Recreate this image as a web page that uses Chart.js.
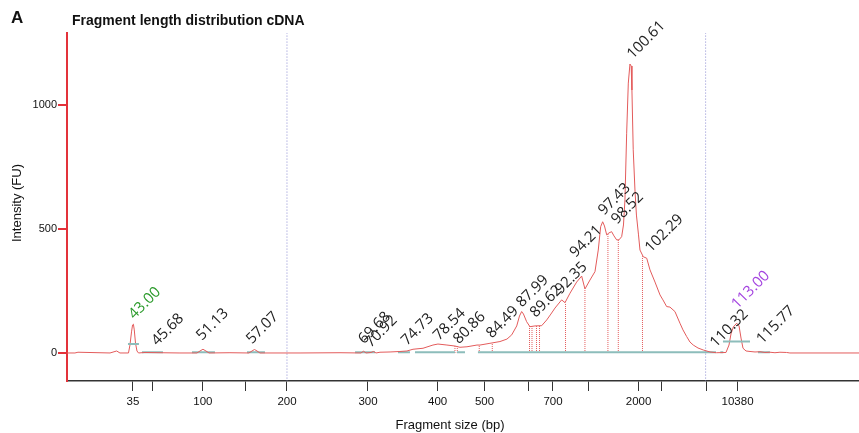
<!DOCTYPE html>
<html><head><meta charset="utf-8">
<script src="https://cdn.jsdelivr.net/npm/chart.js@4.4.1/dist/chart.umd.min.js"></script>
<style>html,body{margin:0;padding:0;background:#fff;overflow:hidden}canvas{display:block}</style>
</head><body><canvas id="c" width="859" height="433"></canvas>
<script>
// ---- data (migration time in s, intensity in FU) ----
const traceTime = [35.36,36.28,36.63,40.34,41.11,41.49,42.48,42.65,42.83,42.95,43.05,43.15,43.29,43.46,43.64,44.39,46.13,48.44,50.41,50.76,51.10,51.45,51.80,54.23,56.43,56.78,57.07,57.36,57.70,62.34,66.97,69.40,69.69,69.98,70.56,70.85,71.14,71.60,72.76,73.91,74.72,75.42,76.58,77.73,78.31,79.35,80.28,80.86,81.67,82.83,83.18,84.33,85.49,86.30,86.85,87.43,87.75,88.00,88.21,88.58,88.96,89.54,90.32,90.90,91.39,91.86,92.63,93.02,93.60,94.37,94.95,95.33,95.91,96.49,96.87,97.15,97.38,97.59,97.85,98.11,98.42,98.69,99.00,99.27,99.58,99.79,99.96,100.16,100.35,100.54,100.68,100.77,100.92,101.12,101.29,101.53,101.70,102.08,102.48,102.86,103.44,104.02,104.36,104.79,105.17,105.75,106.33,106.68,107.11,107.49,107.87,108.42,109.03,109.81,110.58,111.66,112.01,112.24,112.51,112.90,113.17,113.40,113.63,113.98,114.44,115.02,115.60,116.17,116.75,117.33,117.91,118.68,119.06,127.06];
const traceFU = [0,0,3,0,8,0,0,32,85,113,116,93,40,8,0,2,1,0,0,8,15,8,0,1,0,8,14,8,0,0,1,0,7,0,2,6,0,3,4,6,8,15,19,32,36,32,28,23,25,32,32,39,46,56,73,109,149,167,157,126,106,109,110,133,157,181,214,203,241,286,310,258,294,328,415,509,529,512,476,484,489,472,456,456,469,516,617,886,1088,1165,1157,1060,819,657,556,476,415,388,382,335,286,234,214,187,185,167,120,93,66,44,32,20,12,4,1,2,32,77,105,120,109,60,19,8,6,4,5,2,3,1,3,2,0,0];

const ladderBp   = [35,50,100,150,200,300,400,500,600,700,1000,2000,3000,7000,10380];
const ladderTime = [43.00,45.30,51.09,56.05,60.83,70.21,78.27,83.70,88.78,91.63,95.75,101.54,104.25,109.46,113.00];
const ladderShown = [35,100,200,300,400,500,700,2000,10380];
const yTicks = [0,500,1000];

const peakText = ['43.00','45.68','51.13','57.07','69.68','70.92','74.73','78.54','80.86','84.49','87.99','89.62','92.35','94.21','97.43','98.52','100.61','102.29','110.32','113.00','115.77'];
const peakLabelTime = [43.15,45.81,50.99,56.77,69.74,70.52,74.72,78.43,80.74,84.56,88.04,89.62,92.52,94.25,97.53,99.03,100.85,102.94,110.46,112.96,115.86];
const peakLabelFU = [134,27,48,34,34,20,28,48,34,57,182,141,235,383,553,517,1183,403,20,175,34];
const peakColor = ['#2a9a2a','#222','#222','#222','#222','#222','#222','#222','#222','#222','#222','#222','#222','#222','#222','#222','#222','#222','#222','#a444e0','#222'];

const regionTimes = [60.83, 109.30];

const baseStart = [44.04,49.83,56.20,68.71,73.68,75.65,80.51,82.94,111.00,115.36];
const baseEnd   = [46.47,52.49,58.28,71.02,75.07,80.28,81.44,110.50,111.35,116.75];
const baseLevel = 3;

const halfStart = [42.42,111.31];
const halfEnd   = [43.69,114.44];
const halfFU    = [36,46];

const dropTime = [80.28,80.55,83.09,84.60,88.91,89.20,89.72,90.07,93.08,95.33,97.99,99.19,101.99];
const dropTop  = [28,27,32,40,108,107,109,110,203,258,480,456,390];

// ---- build datasets ----
const trace = traceTime.map((t,i)=>({x:t,y:traceFU[i]}));
const segs = [];
baseStart.forEach((s,i)=>{segs.push({x:s,y:baseLevel},{x:baseEnd[i],y:baseLevel},{x:baseEnd[i],y:null});});
const halves = [];
halfStart.forEach((s,i)=>{halves.push({x:s,y:halfFU[i]},{x:halfEnd[i],y:halfFU[i]},{x:halfEnd[i],y:null});});
const drops = [];
dropTime.forEach((t,i)=>{drops.push({x:t,y:0},{x:t,y:dropTop[i]},{x:t,y:null});});
const regions = [];
regionTimes.forEach(t=>{regions.push({x:t,y:-200},{x:t,y:1400},{x:t,y:null});});

const textPlugin = {
  id:'texts',
  afterDatasetsDraw(chart){
    const ctx = chart.ctx, xs = chart.scales.x, ys = chart.scales.y;
    ctx.save();
    ctx.font = '15px "Open Sans"';
    ctx.textAlign = 'left'; ctx.textBaseline = 'alphabetic';
    peakText.forEach((txt,i)=>{
      const px = xs.getPixelForValue(peakLabelTime[i]);
      const py = ys.getPixelForValue(peakLabelFU[i]);
      ctx.save(); ctx.translate(px,py); ctx.rotate(-Math.PI/4);
      ctx.fillStyle = peakColor[i]; ctx.fillText(txt,0,0); ctx.restore();
    });
    ctx.restore();
  },
  afterDraw(chart){
    const ctx = chart.ctx;
    ctx.save();
    ctx.fillStyle = '#111';
    ctx.textBaseline = 'middle';
    ctx.font = 'bold 17px "Liberation Sans"'; ctx.textAlign='left';
    ctx.fillText('A', 11, 18);
    ctx.font = 'bold 14px "Liberation Sans"';
    ctx.fillText('Fragment length distribution cDNA', 72, 21);
    ctx.font = '13px "Liberation Sans"'; ctx.textAlign='center';
    ctx.fillText('Fragment size (bp)', 450, 425);
    ctx.save(); ctx.translate(17,203); ctx.rotate(-Math.PI/2);
    ctx.fillText('Intensity (FU)',0,0); ctx.restore();
    ctx.restore();
  }
};

new Chart(document.getElementById('c'), {
  type:'line',
  data:{datasets:[
    {data:trace, borderColor:'#e35b5b', borderWidth:1, pointRadius:0, tension:0, order:2},
    {data:segs, borderColor:'#8dbdbb', borderWidth:2, pointRadius:0, spanGaps:false, order:3},
    {data:halves, borderColor:'#8dbdbb', borderWidth:2, pointRadius:0, spanGaps:false, order:1},
    {data:drops, borderColor:'#e35b5b', borderWidth:1, borderDash:[1,1], pointRadius:0, spanGaps:false, order:4},
    {data:regions, borderColor:'#8a8ad0', borderWidth:1, borderDash:[1,2], pointRadius:0, spanGaps:false, order:5}
  ]},
  options:{
    responsive:false, animation:false, events:[],
    layout:{padding:{top:33,left:0,right:0,bottom:0}},
    plugins:{legend:{display:false}, tooltip:{enabled:false}},
    scales:{
      x:{type:'linear', min:35.36, max:127.06,
        afterBuildTicks(s){ s.ticks = ladderTime.map(v=>({value:v})); },
        afterFit(s){ s.height = 52; },
        ticks:{autoSkip:false, maxRotation:0, minRotation:0, padding:4, color:'#111',
          font:{family:'"Liberation Sans"', size:11.5},
          callback(v,i){ return ladderShown.includes(ladderBp[i]) ? String(ladderBp[i]) : ''; }},
        grid:{drawOnChartArea:false, drawTicks:true, tickLength:10, color:'#333', lineWidth:1},
        border:{display:true, color:'#333', width:1.5}
      },
      y:{type:'linear', min:-113, max:1290,
        afterBuildTicks(s){ s.ticks = yTicks.map(v=>({value:v})); },
        afterFit(s){ s.width = 67; },
        ticks:{padding:1, color:'#111', font:{family:'"Liberation Sans"', size:11},
          callback(v){ return String(v); }},
        grid:{drawOnChartArea:false, drawTicks:true, tickLength:9, color:'#e3323a', lineWidth:2},
        border:{display:true, color:'#e3323a', width:2}
      }
    }
  },
  plugins:[textPlugin]
});
</script></body></html>
